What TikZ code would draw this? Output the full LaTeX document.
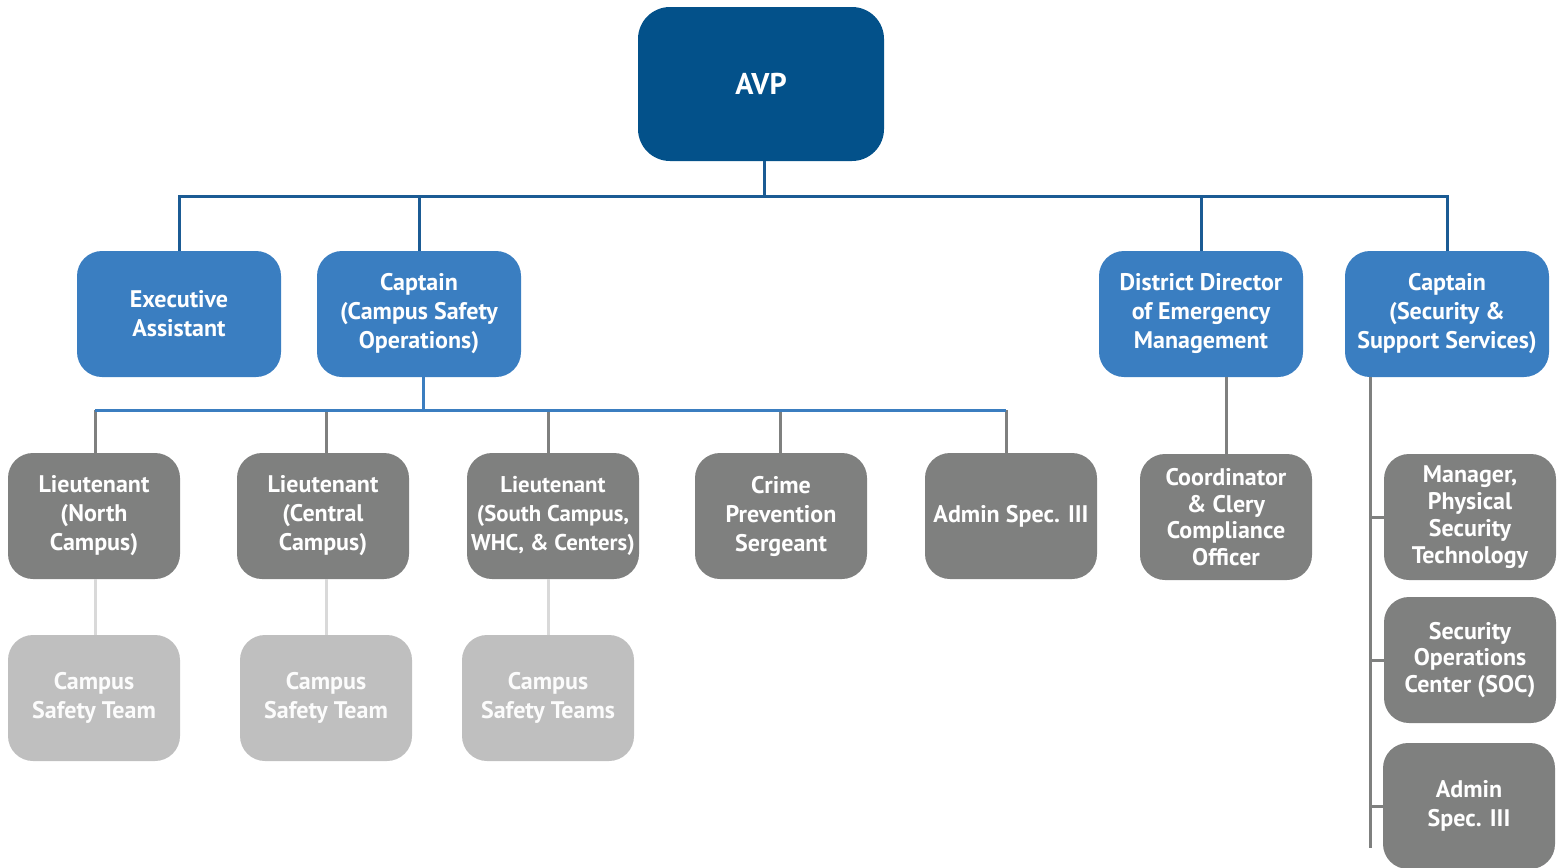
\documentclass[tikz,border=0pt]{standalone}
\usepackage{fontspec}
\setmainfont{PT Sans}
\usetikzlibrary{calc}
\definecolor{avpblue}{HTML}{03518A}
\definecolor{midblue}{HTML}{3A7EC1}
\definecolor{topline}{HTML}{1B5B94}
\definecolor{busblue}{HTML}{3B7EC0}
\definecolor{cgray}{HTML}{7F807F}
\definecolor{lgray}{HTML}{BFBFBF}
\definecolor{llgray}{HTML}{D9D9D9}
\tikzset{
  box/.style={rounded corners=12.5pt, text=white, align=center, inner sep=0pt, minimum height=63pt},
  bluebox/.style={box, fill=midblue, minimum width=102pt},
  graybox/.style={box, fill=cgray, minimum width=86pt},
  lightbox/.style={box, fill=lgray, minimum width=86pt, text=white!95!lgray},
  avpbox/.style={rounded corners=16pt, fill=avpblue, text=white, minimum width=123pt, minimum height=77pt, inner sep=0pt, font=\bfseries\fontsize{15}{17}\selectfont},
  fourline/.style={font=\bfseries\fontsize{12}{13.4}\selectfont},
  narrowtext/.style={font=\bfseries\fontsize{11.4}{14.5}\selectfont},
  topln/.style={draw=topline, line width=1.5pt},
  busln/.style={draw=busblue, line width=1.5pt},
  grayln/.style={draw=cgray, line width=1.5pt},
  lightln/.style={draw=llgray, line width=1.5pt}
}
\begin{document}
\begin{tikzpicture}[x=0.5pt,y=-0.5pt, font=\bfseries\fontsize{12}{14.5}\selectfont]
\useasboundingbox (0,0) rectangle (1567,867);
% nodes
\node[avpbox] (avp) at (761,84) {AVP};
\node[bluebox] (ea) at (179,314) {Executive\\Assistant};
\node[bluebox] (cso) at (419,314) {Captain\\(Campus Safety\\Operations)};
\node[bluebox] (dd) at (1201,314) {District Director\\of Emergency\\Management};
\node[bluebox] (sss) at (1447,314) {Captain\\(Security \&\\Support Services)};
\node[graybox] (ltn) at (94,516) {Lieutenant\\(North\\Campus)};
\node[graybox] (ltc) at (323,516) {Lieutenant\\(Central\\Campus)};
\node[graybox, narrowtext] (lts) at (553,516) {Lieutenant\\(South Campus,\\WHC, \& Centers)};
\node[graybox] (cps) at (781,516) {Crime\\Prevention\\Sergeant};
\node[graybox] (as1) at (1011,516) {Admin Spec. III};
\node[graybox, fourline] (coord) at (1226,517) {Coordinator\\\& Clery\\Compliance\\Officer};
\node[graybox, fourline] (mgr) at (1470,517) {Manager,\\Physical\\Security\\Technology};
\node[graybox, fourline] (soc) at (1470,660) {Security\\Operations\\Center (SOC)};
\node[graybox] (as2) at (1469,806) {Admin\\Spec. III};
\node[lightbox] (cst1) at (94,698) {Campus\\Safety Team};
\node[lightbox] (cst2) at (326,698) {Campus\\Safety Team};
\node[lightbox] (cst3) at (548,698) {Campus\\Safety Teams};
% bus coordinates
\coordinate (bus1) at (764,196);
\coordinate (bus2) at (423,410);
\coordinate (rail) at (1370,848);
% top level
\draw[topln] (avp.south -| bus1) -- (bus1);
\draw[topln] (ea.north) |- (bus1) -| (sss.north);
\draw[topln] (cso.north) -- (cso.north |- bus1);
\draw[topln] (dd.north) -- (dd.north |- bus1);
% campus safety operations
\draw[busln] (cso.south -| bus2) -- (bus2);
\draw[grayln] ([xshift=0.5pt]ltn.north) -- ([xshift=0.5pt]ltn.north |- bus2);
\draw[grayln] ([xshift=1.5pt]ltc.north) -- ([xshift=1.5pt]ltc.north |- bus2);
\draw[grayln] ([xshift=-2.5pt]lts.north) -- ([xshift=-2.5pt]lts.north |- bus2);
\draw[grayln] ([xshift=-0.5pt]cps.north) -- ([xshift=-0.5pt]cps.north |- bus2);
\draw[grayln] ([xshift=-2.5pt]as1.north) -- ([xshift=-2.5pt]as1.north |- bus2);
\draw[busln] ([xshift=0.5pt]ltn.north |- bus2) -- ([xshift=-2.5pt]as1.north |- bus2);
% teams
\draw[lightln] ([xshift=0.5pt]ltn.south) -- ([xshift=0.5pt]cst1.north);
\draw[lightln] (cst2.north |- ltc.south) -- (cst2.north);
\draw[lightln] (cst3.north |- lts.south) -- (cst3.north);
% district director
\draw[grayln] ([xshift=12.5pt]dd.south) -- (coord.north);
% security & support services rail
\draw[grayln] (sss.south -| rail) -- (rail);
\draw[grayln] (mgr.west -| rail) -- (mgr.west);
\draw[grayln] (soc.west -| rail) -- (soc.west);
\draw[grayln] (as2.west -| rail) -- (as2.west);
\end{tikzpicture}
\end{document}
